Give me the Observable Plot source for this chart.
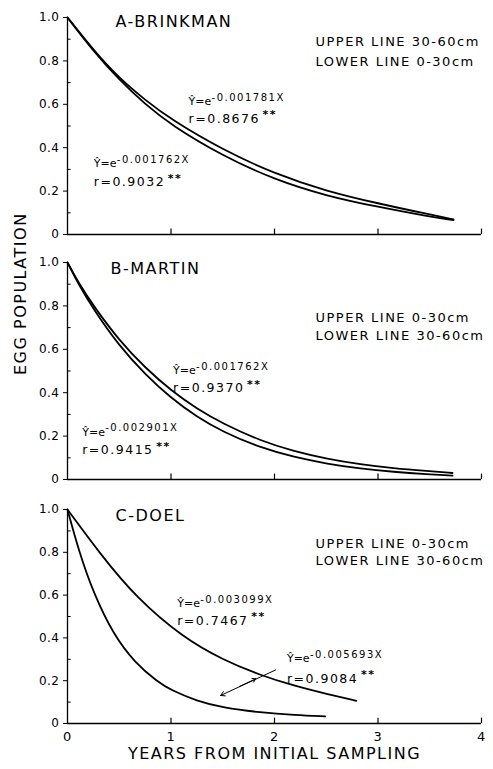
<!DOCTYPE html>
<html>
<head>
<meta charset="utf-8">
<script src="https://cdn.jsdelivr.net/npm/d3@7"></script>
<script src="https://cdn.jsdelivr.net/npm/@observablehq/plot@0.6"></script>
<style>
  html, body { margin: 0; padding: 0; background: #fff; }
  #wrap { position: relative; width: 493px; height: 769px; overflow: hidden; }
  .pane { position: absolute; left: 0; }
  svg text { letter-spacing: 1.5px; }
  g[aria-label="x-axis tick label"] text, g[aria-label="y-axis tick label"] text { letter-spacing: 0.5px; }
</style>
</head>
<body>
<div id="wrap">
  <div class="pane" id="pA" style="top:0px"></div>
  <div class="pane" id="pB" style="top:245px"></div>
  <div class="pane" id="pC" style="top:492px"></div>
</div>
<script>
// ---- Data (x = years, y = relative egg population) ----
const brinkmanX     = [0, 0.25, 0.5, 0.75, 1, 1.5, 2, 2.5, 3, 3.5, 3.73];
const brinkmanUpper = [1, 0.85, 0.72, 0.62, 0.53, 0.39, 0.28, 0.20, 0.143, 0.092, 0.07];
const brinkmanLower = [1, 0.845, 0.712, 0.60, 0.505, 0.362, 0.253, 0.178, 0.127, 0.082, 0.066];

const martinX     = [0, 0.1, 0.25, 0.5, 0.75, 1, 1.25, 1.5, 1.865, 2.19, 2.51, 2.83, 3.15, 3.48, 3.72];
const martinUpper = [1, 0.912, 0.80, 0.64, 0.515, 0.41, 0.326, 0.258, 0.178, 0.13, 0.095, 0.07, 0.052, 0.039, 0.03];
const martinLower = [1, 0.905, 0.785, 0.615, 0.485, 0.375, 0.289, 0.22, 0.146, 0.103, 0.072, 0.05, 0.035, 0.024, 0.018];

const doelUpperX = [0, 0.32, 0.66, 1.12, 1.5, 1.865, 2.19, 2.51, 2.79];
const doelUpper  = [1, 0.79, 0.59, 0.40, 0.298, 0.225, 0.176, 0.137, 0.106];
const doelLowerX = [0, 0.11, 0.25, 0.45, 0.65, 0.87, 1.0, 1.25, 1.5, 1.865, 2.2, 2.49];
const doelLower  = [1, 0.805, 0.61, 0.41, 0.285, 0.195, 0.156, 0.105, 0.074, 0.051, 0.039, 0.033];

const panelTitles = ["A-BRINKMAN", "B-MARTIN", "C-DOEL"];
const legendA = ["UPPER LINE 30-60cm", "LOWER LINE 0-30cm"];
const legendB = ["UPPER LINE 0-30cm", "LOWER LINE 30-60cm"];
const legendC = ["UPPER LINE 0-30cm", "LOWER LINE 30-60cm"];

const eqA = [
  {x: 1.17, ye: 0.613, yr: 0.533, exp: "-0.001781X", r: "r=0.8676"},
  {x: 0.254, ye: 0.326, yr: 0.241, exp: "-0.001762X", r: "r=0.9032"}
];
const eqB = [
  {x: 1.02, ye: 0.502, yr: 0.421, exp: "-0.001762X", r: "r=0.9370"},
  {x: 0.142, ye: 0.219, yr: 0.135, exp: "-0.002901X", r: "r=0.9415"}
];
const eqC = [
  {x: 1.06, ye: 0.559, yr: 0.481, exp: "-0.003099X", r: "r=0.7467"},
  {x: 2.12, ye: 0.302, yr: 0.209, exp: "-0.005693X", r: "r=0.9084"}
];

const yMajor = [0, 0.2, 0.4, 0.6, 0.8, 1.0];
const yMinor = [0.1, 0.3, 0.5, 0.7, 0.9];
const xTicks = [0, 1, 2, 3, 4];
const xLabel = "YEARS FROM INITIAL SAMPLING";
const yLabel = "EGG POPULATION";

// ---- helpers ----
const FONT = "'DejaVu Sans', sans-serif";
function rows(xs, ys, s) { return xs.map((x, i) => ({x, y: ys[i], s})); }

function panel({lines, title, titlePos, legend, legendPos, eqs, height, marginTop, marginBottom, extra = []}) {
  const legendRows = legend.map((t, i) => ({t, x: legendPos.x, y: legendPos.y[i]}));
  const svg = Plot.plot({
    width: 493,
    height,
    marginLeft: 67,
    marginRight: 12,
    marginTop,
    marginBottom,
    x: {domain: [0, 4], axis: null},
    y: {domain: [0, 1], axis: null},
    style: {fontFamily: FONT, background: "white", color: "black", overflow: "visible"},
    marks: [
      Plot.ruleY([0], {stroke: "black", strokeWidth: 1.3}),
      Plot.ruleX([0], {stroke: "black", strokeWidth: 1.3}),
      Plot.ruleX(xTicks.slice(1), {y1: 0, y2: 0.025, stroke: "black", strokeWidth: 1.2}),
      Plot.ruleY(yMinor, {x1: 0, x2: 0.035, stroke: "black", strokeWidth: 1}),
      Plot.axisY({ticks: yMajor, tickFormat: d => d === 0 ? "0" : d.toFixed(1), tickSize: 4, tickPadding: 4, fontSize: 12, label: null}),
      Plot.line(lines, {x: "x", y: "y", z: "s", curve: "basis", stroke: "black", strokeWidth: 1.8}),
      Plot.text([title], {x: titlePos.x, y: titlePos.y, textAnchor: "start", fontSize: 16}),
      Plot.text(legendRows, {x: "x", y: "y", text: "t", textAnchor: "start", fontSize: 13}),
      Plot.text(eqs, {x: "x", y: "ye", text: () => "Ŷ=e", textAnchor: "start", fontSize: 11}),
      Plot.text(eqs, {x: "x", y: "ye", text: "exp", dx: 23, dy: -4, textAnchor: "start", fontSize: 10}),
      Plot.text(eqs, {x: "x", y: "yr", text: "r", textAnchor: "start", fontSize: 12.5}),
      Plot.text(eqs, {x: "x", y: "yr", text: () => "**", dx: 74, dy: -4, textAnchor: "start", fontSize: 11, fontWeight: "bold"}),
      ...extra
    ]
  });
  svg.querySelectorAll("text").forEach(t => { if (t.textContent === "Ŷ=e") t.style.letterSpacing = "0px"; });
  return svg;
}

// Panel A
document.getElementById("pA").append(panel({
  lines: [...rows(brinkmanX, brinkmanUpper, "upper"), ...rows(brinkmanX, brinkmanLower, "lower")],
  title: panelTitles[0], titlePos: {x: 0.464, y: 0.982},
  legend: legendA, legendPos: {x: 2.396, y: [0.886, 0.794]},
  eqs: eqA, height: 242, marginTop: 17, marginBottom: 8
}));

// Panel B
document.getElementById("pB").append(panel({
  lines: [...rows(martinX, martinUpper, "upper"), ...rows(martinX, martinLower, "lower")],
  title: panelTitles[1], titlePos: {x: 0.415, y: 0.97},
  legend: legendB, legendPos: {x: 2.396, y: [0.747, 0.663]},
  eqs: eqB, height: 242, marginTop: 17, marginBottom: 8,
  extra: [
    Plot.text([yLabel], {frameAnchor: "left", dx: -47, dy: 4, rotate: -90, fontSize: 16})
  ]
}));

// Panel C
const arrowMain = [{x1: 2.01, y1: 0.25, x2: 1.48, y2: 0.131}];
const arrowCross = [{x1: 1.66, y1: 0.173, x2: 1.82, y2: 0.209}];
document.getElementById("pC").append(panel({
  lines: [...rows(doelUpperX, doelUpper, "upper"), ...rows(doelLowerX, doelLower, "lower")],
  title: panelTitles[2], titlePos: {x: 0.464, y: 0.972},
  legend: legendC, legendPos: {x: 2.396, y: [0.84, 0.762]},
  eqs: eqC, height: 277, marginTop: 17, marginBottom: 46,
  extra: [
    Plot.arrow(arrowMain, {x1: "x1", y1: "y1", x2: "x2", y2: "y2", stroke: "black", strokeWidth: 1, headLength: 7}),
    Plot.arrow(arrowCross, {x1: "x1", y1: "y1", x2: "x2", y2: "y2", stroke: "black", strokeWidth: 1, headLength: 6}),
    Plot.axisX({ticks: xTicks, tickFormat: d => String(d), tickSize: 0, tickPadding: 8, fontSize: 13, label: null}),
    Plot.text([xLabel], {frameAnchor: "bottom", dy: 35, fontSize: 16})
  ]
}));
</script>
</body>
</html>
